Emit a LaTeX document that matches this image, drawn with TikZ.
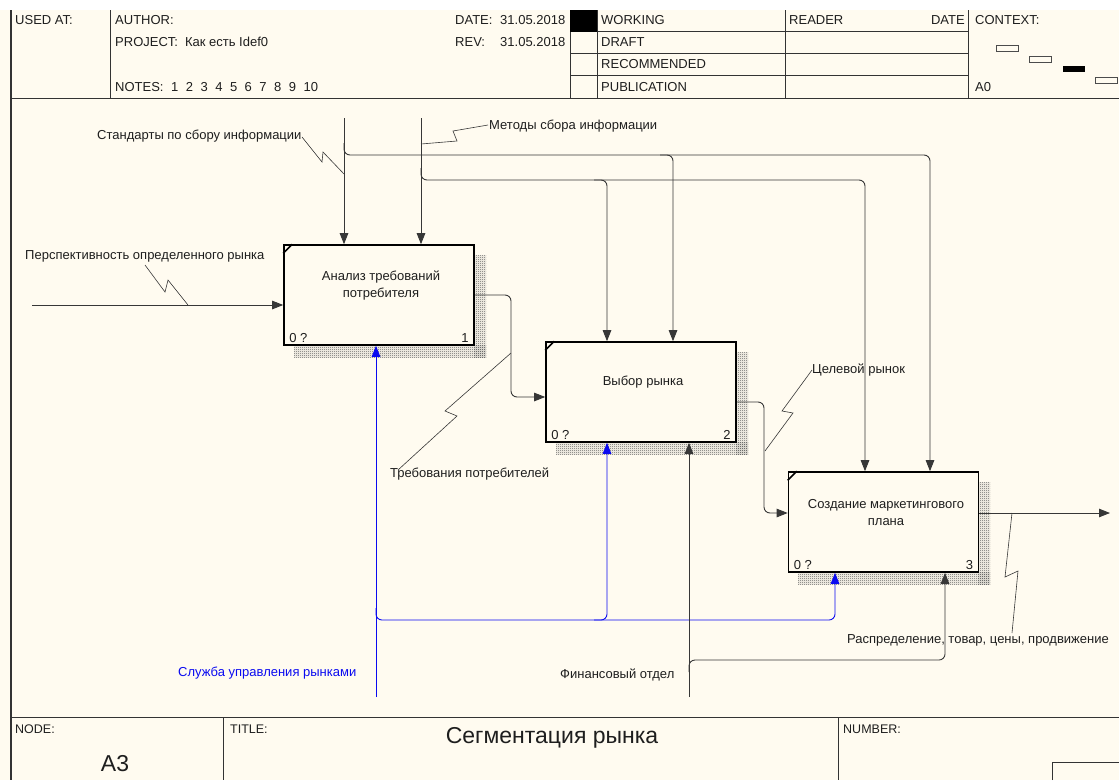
\documentclass[tikz,border=0pt]{standalone}
\usepackage{fontspec}
\setmainfont{Liberation Sans}
\usetikzlibrary{arrows.meta,patterns.meta}
\definecolor{cream}{RGB}{255,251,240}
\definecolor{lin}{RGB}{55,55,55}
\definecolor{txt}{RGB}{30,30,30}
\definecolor{mblue}{RGB}{10,10,240}
\tikzdeclarepattern{name=shdots, type=uncolored, bounding box={(0pt,0pt) and (2pt,2pt)}, tile size={(2pt,2pt)},
  code={\pgfpathrectangle{\pgfpointorigin}{\pgfqpoint{1pt}{1pt}}\pgfpathrectangle{\pgfqpoint{1pt}{1pt}}{\pgfqpoint{1pt}{1pt}}\pgfusepath{fill}}}
\begin{document}
\begin{tikzpicture}[x=1pt,y=-1pt,
  every node/.style={inner sep=0pt,text=txt,font=\fontsize{13}{15.5}\selectfont},
  tx/.style={anchor=west},
  small/.style={anchor=west,font=\fontsize{12.5}{14}\selectfont},
  big/.style={font=\fontsize{23}{26}\selectfont},
  fn/.style={draw=black,line width=1.6pt,fill=cream,minimum width=190pt,minimum height=100pt},
  boxtext/.style={align=center,font=\fontsize{13}{17}\selectfont},
  shadow/.style={pattern={shdots},pattern color=black!65},
  cn/.style={draw=lin,line width=0.9pt,rounded corners=6pt,-{Triangle[length=11pt,width=8.5pt]}},
  sq/.style={draw=lin,line width=0.6pt},
  gridline/.style={draw=black!80,line width=0.8pt},
  ctx/.style={draw=black!70,line width=0.8pt,fill=cream}]
\useasboundingbox (0,0) rectangle (1119,780);
\fill[white] (0,0) rectangle (1119,780);
\fill[cream] (0,10) rectangle (1119,780);

% ---------- header ----------
\draw[gridline] (10,98) -- (1119,98);
\draw[gridline] (110,10) -- (110,98);
\draw[gridline] (570,10) -- (570,98);
\draw[gridline] (597,10) -- (597,98);
\draw[gridline] (785,10) -- (785,98);
\draw[gridline] (968,10) -- (968,98);
\draw[gridline] (570,31.5) -- (968,31.5);
\draw[gridline] (570,53.5) -- (968,53.5);
\draw[gridline] (570,75.5) -- (968,75.5);
\fill[black] (570,10) rectangle (597,31.5);
\draw[black!80,line width=2.5pt] (11,10) -- (11,780);

\node[tx] (usedat) at (15,20) {USED AT:};
\node[tx] (author) at (115,20) {AUTHOR:};
\node[tx] (project) at (115,42) {PROJECT:\hspace{7pt}Как есть Idef0};
\node[tx] (notes) at (115,87) {NOTES:\hspace{7.5pt}1\hspace{7.5pt}2\hspace{7.5pt}3\hspace{7.5pt}4\hspace{7.5pt}5\hspace{7.5pt}6\hspace{7.5pt}7\hspace{7.5pt}8\hspace{7.5pt}9\hspace{7.5pt}10};
\node[tx] (datek) at (455,20) {DATE:};
\node[tx] (datev) at (500,20) {31.05.2018};
\node[tx] (revk) at (455,42) {REV:};
\node[tx] (revv) at (500,42) {31.05.2018};
\node[tx] (working) at (601,20) {WORKING};
\node[tx] (draft) at (601,42) {DRAFT};
\node[tx] (recom) at (601,64) {RECOMMENDED};
\node[tx] (public) at (601,87) {PUBLICATION};
\node[tx] (reader) at (789,20) {READER};
\node[anchor=east] (rdate) at (965,20) {DATE};
\node[tx] (context) at (975,20) {CONTEXT:};
\node[tx] (a0) at (975,87) {A0};
\draw[ctx] (996,45) rectangle (1018,51);
\draw[ctx] (1029,56) rectangle (1051,62);
\fill[black] (1063,66) rectangle (1085,72);
\draw[ctx] (1095,77) rectangle (1117,83);

% ---------- footer ----------
\draw[gridline] (10,717) -- (1119,717);
\draw[gridline] (223,717) -- (223,780);
\draw[gridline] (838,717) -- (838,780);
\draw[gridline] (1052,780) -- (1052,762) -- (1119,762);
\node[small] (nodek) at (15,729) {NODE:};
\node[small] (titlek) at (230,729) {TITLE:};
\node[small] (numberk) at (843,729) {NUMBER:};
\node[big] (title) at (552,738) {Сегментация рынка};
\node[big] (a3) at (115,764) {A3};

% ---------- shadows ----------
\fill[shadow] (474,255) rectangle (486,357);
\fill[shadow] (294,345) rectangle (486,357);
\fill[shadow] (736,352) rectangle (748,454);
\fill[shadow] (556,442) rectangle (748,454);
\fill[shadow] (978,482) rectangle (990,584);
\fill[shadow] (798,572) rectangle (990,584);

% ---------- boxes ----------
\node[fn] (b1) at (379,295) {};
\node[fn] (b2) at (641,392) {};
\node[fn] (b3) at (883.5,522) {};
\foreach \b in {b1,b2,b3}
  \draw[line width=1.6pt] ([yshift=-9pt]\b.north west) -- ([xshift=9pt]\b.north west);
\node[boxtext] (t1) at (381,286) {Анализ требований\\потребителя};
\node[boxtext] (t2) at (643,382) {Выбор рынка};
\node[boxtext] (t3) at (886,513) {Создание маркетингового\\плана};
\foreach \b/\n in {b1/1,b2/2,b3/3}{
  \node[anchor=south west] (\b z) at ([xshift=6pt,yshift=3pt]\b.south west) {0 ?};
  \node[anchor=south east] (\b n) at ([xshift=-6pt,yshift=3pt]\b.south east) {\n};
}

% ---------- connectors ----------
\coordinate (inL) at (32,305);
\draw[cn] (inL) -- (inL -| b1.west);

\coordinate (cS) at (344,118);
\coordinate (cM) at (421,118);
\draw[cn] (cS) -- (cS |- b1.north);
\draw[cn] (cM) -- (cM |- b1.north);
\draw[cn] (344,143) -- (344,155) -| ([xshift=46.5pt]b3.north);
\draw[cn] (660,155) -| ([xshift=32pt]b2.north);
\draw[cn] (421,168) -- (421,180) -| ([xshift=-18.5pt]b3.north);
\draw[cn] (594,180) -| ([xshift=-34pt]b2.north);

\draw[cn] (b1.east) -- (511,295) |- ([yshift=-5pt]b2.west);
\draw[cn] ([yshift=-10pt]b2.east) -- (764,402) |- ([yshift=9pt]b3.west);
\coordinate (outR) at (1110,513);
\draw[cn] ([yshift=9pt]b3.east) -- (outR);

\coordinate (mB) at (376,697);
\draw[cn,draw=mblue] (mB) -- (mB |- b1.south);
\draw[cn,draw=mblue] (376,608) -- (376,620) -| ([xshift=-48.5pt]b3.south);
\draw[cn,draw=mblue] (594,620) -| ([xshift=-34pt]b2.south);

\coordinate (mF) at (689,697);
\draw[cn] (mF) -- (mF |- b2.south);
\draw[cn] (689,672) -- (689,660) -| ([xshift=61.5pt]b3.south);

% ---------- label leaders ----------
\draw[sq] (145,265) -- (165,292) -- (168,280) -- (188,305);
\draw[sq] (302,137) -- (322,162) -- (323,152) -- (344,174);
\draw[sq] (421,144) -- (457,141) -- (453,131) -- (488,125);
\draw[sq] (511,353) -- (445,411) -- (457,416) -- (398,470);
\draw[sq] (765,451) -- (793,413) -- (782,411) -- (812,370);
\draw[sq] (1012,513) -- (1005,577) -- (1018,571) -- (1012,633);

% ---------- labels ----------
\node[tx] (lP) at (25,256) {Перспективность определенного рынка};
\node[tx] (lS) at (97,136) {Стандарты по сбору информации};
\node[tx] (lM) at (489,126) {Методы сбора информации};
\node[tx] (lT) at (390,474) {Требования потребителей};
\node[tx] (lC) at (812,370) {Целевой рынок};
\node[tx] (lR) at (847,640) {Распределение, товар, цены, продвижение};
\node[tx] (lF) at (560,675) {Финансовый отдел};
\node[tx,text=mblue] (lB) at (178,673) {Служба управления рынками};
\end{tikzpicture}
\end{document}
